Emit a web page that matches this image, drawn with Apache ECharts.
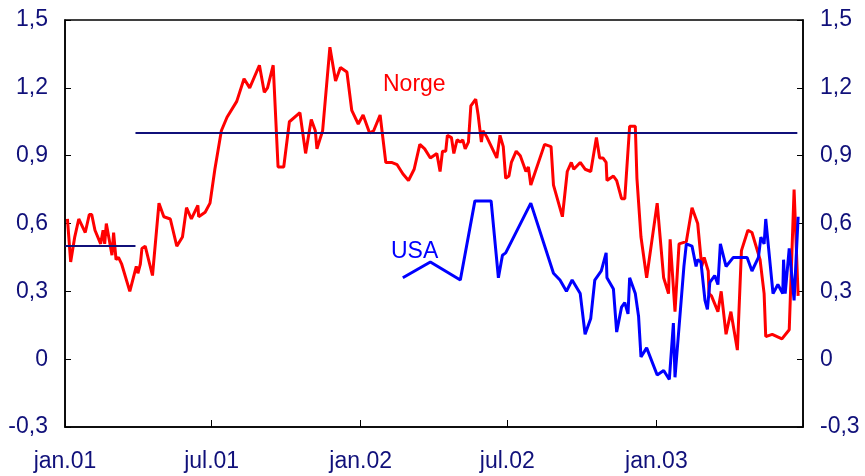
<!DOCTYPE html>
<html>
<head>
<meta charset="utf-8">
<script src="https://cdn.jsdelivr.net/npm/echarts@6/dist/echarts.min.js"></script>
<style>
  html, body { margin: 0; padding: 0; background: #fff; }
  #chart { width: 865px; height: 476px; }
</style>
</head>
<body>
<div id="chart"></div>
<script>
// tick dates and their labels (x axis)
const tickDates = ['2001-01-01', '2001-07-01', '2002-01-01', '2002-07-01', '2003-01-01', '2003-07-01'];
const tickLabels = ['jan.01', 'jul.01', 'jan.02', 'jul.02', 'jan.03', ''];

// Norge
const norge = [
  ['2001-01-04', 0.62], ['2001-01-08', 0.43], ['2001-01-13', 0.54], ['2001-01-18', 0.62],
  ['2001-01-26', 0.56], ['2001-01-31', 0.64], ['2001-02-03', 0.64], ['2001-02-07', 0.57],
  ['2001-02-14', 0.51], ['2001-02-17', 0.57], ['2001-02-19', 0.51], ['2001-02-21', 0.60],
  ['2001-02-25', 0.52], ['2001-02-28', 0.46], ['2001-03-02', 0.56], ['2001-03-05', 0.44],
  ['2001-03-08', 0.45], ['2001-03-12', 0.42], ['2001-03-22', 0.30], ['2001-03-30', 0.41],
  ['2001-04-01', 0.38], ['2001-04-04', 0.42], ['2001-04-06', 0.49], ['2001-04-10', 0.50],
  ['2001-04-19', 0.37], ['2001-04-27', 0.69], ['2001-05-03', 0.63], ['2001-05-11', 0.62],
  ['2001-05-19', 0.50], ['2001-05-26', 0.54], ['2001-05-31', 0.67], ['2001-06-06', 0.62],
  ['2001-06-14', 0.68], ['2001-06-15', 0.63], ['2001-06-23', 0.65], ['2001-06-29', 0.69],
  ['2001-07-05', 0.84], ['2001-07-13', 1.01], ['2001-07-20', 1.07], ['2001-08-01', 1.14],
  ['2001-08-10', 1.24], ['2001-08-17', 1.20], ['2001-08-29', 1.30], ['2001-09-04', 1.18],
  ['2001-09-08', 1.20], ['2001-09-15', 1.30], ['2001-09-21', 0.85], ['2001-09-28', 0.85],
  ['2001-10-05', 1.05], ['2001-10-18', 1.09], ['2001-10-25', 0.91], ['2001-11-01', 1.06],
  ['2001-11-06', 1.01], ['2001-11-08', 0.93], ['2001-11-15', 1.01], ['2001-11-24', 1.38],
  ['2001-12-01', 1.23], ['2001-12-07', 1.29], ['2001-12-15', 1.27], ['2001-12-21', 1.10],
  ['2001-12-29', 1.04], ['2002-01-04', 1.08], ['2002-01-12', 1.00], ['2002-01-17', 1.01],
  ['2002-01-25', 1.08], ['2002-02-01', 0.87], ['2002-02-08', 0.87], ['2002-02-15', 0.86],
  ['2002-02-22', 0.82], ['2002-03-01', 0.79], ['2002-03-08', 0.84], ['2002-03-15', 0.95],
  ['2002-03-21', 0.93], ['2002-03-28', 0.89], ['2002-04-05', 0.91], ['2002-04-09', 0.83],
  ['2002-04-12', 0.92], ['2002-04-16', 0.92], ['2002-04-18', 0.99], ['2002-04-23', 0.98],
  ['2002-04-26', 0.91], ['2002-04-30', 0.97], ['2002-05-04', 0.96], ['2002-05-07', 0.97],
  ['2002-05-10', 0.93], ['2002-05-14', 0.96], ['2002-05-17', 1.12], ['2002-05-23', 1.15],
  ['2002-05-26', 1.08], ['2002-05-30', 0.96], ['2002-06-01', 1.01], ['2002-06-06', 0.98],
  ['2002-06-18', 0.89], ['2002-06-22', 0.99], ['2002-06-26', 0.94], ['2002-06-29', 0.80],
  ['2002-07-03', 0.81], ['2002-07-06', 0.87], ['2002-07-12', 0.92], ['2002-07-17', 0.90],
  ['2002-07-24', 0.83], ['2002-07-27', 0.85], ['2002-07-30', 0.77], ['2002-08-16', 0.95],
  ['2002-08-24', 0.94], ['2002-08-27', 0.77], ['2002-09-07', 0.63], ['2002-09-13', 0.83],
  ['2002-09-18', 0.87], ['2002-09-21', 0.84], ['2002-09-29', 0.87], ['2002-10-05', 0.84],
  ['2002-10-12', 0.83], ['2002-10-19', 0.98], ['2002-10-23', 0.89], ['2002-10-27', 0.89],
  ['2002-10-31', 0.87], ['2002-11-01', 0.79], ['2002-11-09', 0.81], ['2002-11-13', 0.79],
  ['2002-11-19', 0.71], ['2002-11-23', 0.71], ['2002-11-29', 1.03], ['2002-12-06', 1.03],
  ['2002-12-08', 0.80], ['2002-12-13', 0.54], ['2002-12-20', 0.36], ['2003-01-02', 0.69],
  ['2003-01-10', 0.36], ['2003-01-16', 0.29], ['2003-01-18', 0.53], ['2003-01-24', 0.21],
  ['2003-01-29', 0.51], ['2003-02-07', 0.52], ['2003-02-14', 0.67], ['2003-02-21', 0.60],
  ['2003-02-26', 0.41], ['2003-03-01', 0.45], ['2003-03-06', 0.39], ['2003-03-07', 0.29],
  ['2003-03-10', 0.28], ['2003-03-18', 0.21], ['2003-03-22', 0.30], ['2003-03-28', 0.11],
  ['2003-04-03', 0.21], ['2003-04-11', 0.04], ['2003-04-16', 0.48], ['2003-04-24', 0.57],
  ['2003-04-29', 0.56], ['2003-05-09', 0.44], ['2003-05-14', 0.29], ['2003-05-16', 0.10],
  ['2003-05-24', 0.11], ['2003-06-05', 0.09], ['2003-06-14', 0.13], ['2003-06-20', 0.75],
  ['2003-06-25', 0.28]
];

// USA
const usa = [
  ['2002-02-22', 0.36], ['2002-03-28', 0.43], ['2002-05-04', 0.35], ['2002-05-22', 0.70],
  ['2002-06-11', 0.70], ['2002-06-20', 0.36], ['2002-06-25', 0.46], ['2002-06-29', 0.47],
  ['2002-07-30', 0.69], ['2002-08-27', 0.38], ['2002-09-04', 0.35], ['2002-09-12', 0.30],
  ['2002-09-19', 0.35], ['2002-09-29', 0.29], ['2002-10-05', 0.11], ['2002-10-12', 0.18],
  ['2002-10-17', 0.35], ['2002-10-25', 0.39], ['2002-10-31', 0.47], ['2002-11-01', 0.36],
  ['2002-11-09', 0.31], ['2002-11-13', 0.12], ['2002-11-19', 0.23], ['2002-11-23', 0.25],
  ['2002-11-27', 0.20], ['2002-11-29', 0.36], ['2002-12-06', 0.29], ['2002-12-10', 0.19],
  ['2002-12-13', 0.01], ['2002-12-20', 0.05], ['2003-01-02', -0.07], ['2003-01-10', -0.05],
  ['2003-01-17', -0.09], ['2003-01-22', 0.16], ['2003-01-24', -0.08], ['2003-02-04', 0.41],
  ['2003-02-07', 0.51], ['2003-02-14', 0.50], ['2003-02-19', 0.41], ['2003-02-21', 0.44],
  ['2003-02-25', 0.43], ['2003-03-02', 0.26], ['2003-03-05', 0.22], ['2003-03-08', 0.34],
  ['2003-03-14', 0.37], ['2003-03-18', 0.33], ['2003-03-21', 0.51], ['2003-03-28', 0.41],
  ['2003-04-06', 0.45], ['2003-04-23', 0.45], ['2003-04-29', 0.39], ['2003-05-07', 0.45],
  ['2003-05-10', 0.54], ['2003-05-14', 0.51], ['2003-05-16', 0.62], ['2003-05-25', 0.29],
  ['2003-05-31', 0.33], ['2003-06-06', 0.29], ['2003-06-07', 0.44], ['2003-06-09', 0.29],
  ['2003-06-14', 0.49], ['2003-06-20', 0.26], ['2003-06-25', 0.63]
];

// level line (0.5 until end of March 2001, then 1.0)
const levelDates = ['2001-01-01', '2001-03-29', '2001-03-29', '2001-03-29', '2003-06-24'];
const levelValues = [0.5, 0.5, '-', 1.0, 1.0];

const navy = '#10107a';
const font = 'Liberation Sans, Arial, sans-serif';

function ts(s) {
  const p = s.split('-').map(Number);
  return new Date(p[0], p[1] - 1, p[2]).getTime();
}
const tickTs = tickDates.map(ts);
const labelTs = tickTs.filter((t, i) => tickLabels[i] !== '');
const toPoints = arr => arr.map(d => [ts(d[0]), d[1]]);
const levelData = levelDates.map((d, i) => [ts(d), levelValues[i]]);

function fmtY(v) {
  if (Math.abs(v) < 1e-9) return '0';
  return v.toFixed(1).replace('.', ',');
}

function yAxis(pos) {
  return {
    type: 'value',
    position: pos,
    min: -0.3,
    max: 1.5,
    interval: 0.3,
    axisLine: { show: true, lineStyle: { color: '#000', width: 1.5 } },
    axisTick: { show: true, inside: true, length: 6, lineStyle: { color: '#000', width: 1 } },
    splitLine: { show: false },
    axisLabel: {
      color: navy, fontSize: 23, fontFamily: font, margin: 17,
      formatter: fmtY
    }
  };
}

const chart = echarts.init(document.getElementById('chart'));
chart.setOption({
  animation: false,
  backgroundColor: '#fff',
  grid: {
    left: 65, right: 62, top: 20, bottom: 49,
    show: true, borderColor: '#000', borderWidth: 1.5
  },
  xAxis: {
    type: 'value',
    min: tickTs[0],
    max: tickTs[tickTs.length - 1],
    axisLine: { show: true, onZero: false, lineStyle: { color: '#000', width: 1.5 } },
    axisTick: {
      show: true, inside: true, length: 7,
      customValues: tickTs,
      lineStyle: { color: '#000', width: 1 }
    },
    splitLine: { show: false },
    axisLabel: {
      color: navy, fontSize: 23, fontFamily: font, margin: 23,
      customValues: labelTs,
      formatter: function (v) {
        const i = tickTs.indexOf(v);
        return i >= 0 ? tickLabels[i] : '';
      }
    }
  },
  yAxis: [yAxis('left'), yAxis('right')],
  graphic: [
    { type: 'text', left: 383, top: 73,
      style: { text: 'Norge', fill: '#ff0000', font: '23px ' + font } },
    { type: 'text', left: 391, top: 240,
      style: { text: 'USA', fill: '#0000ff', font: '23px ' + font } }
  ],
  series: [
    {
      name: 'Norge', type: 'line', data: toPoints(norge), showSymbol: false,
      lineStyle: { color: '#ff0000', width: 3 }, z: 2
    },
    {
      name: 'USA', type: 'line', data: toPoints(usa), showSymbol: false,
      lineStyle: { color: '#0000ff', width: 3 }, z: 3
    },
    {
      name: 'nivå', type: 'line', data: levelData, showSymbol: false,
      connectNulls: false,
      lineStyle: { color: navy, width: 2 }, z: 4
    }
  ]
});
</script>
</body>
</html>
